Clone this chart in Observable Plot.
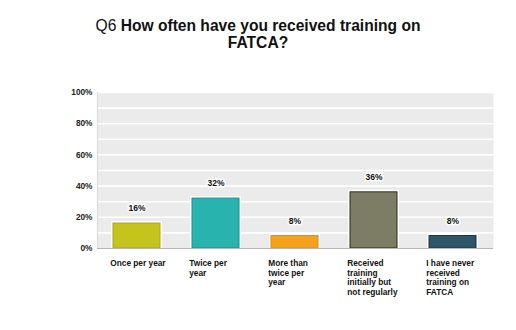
<!DOCTYPE html>
<html>
<head>
<meta charset="utf-8">
<script src="https://cdn.jsdelivr.net/npm/d3@7"></script>
<script src="https://cdn.jsdelivr.net/npm/@observablehq/plot@0.6"></script>
<style>
  html, body { margin: 0; padding: 0; background: #fff; }
  #title { width: 516px; height: 60px; box-sizing: border-box; padding-top: 17px; text-align: center;
    font-family: "Liberation Sans", Arial, sans-serif; font-weight: bold; font-size: 15.6px; line-height: 17px; color: #111; }
  #title .q { font-weight: normal; }
  svg { display: block; }
</style>
</head>
<body>
<div id="title"><span class="q">Q6</span> How often have you received training on<br>FATCA?</div>
<div id="chart"></div>
<script>
const categories = ["Once per year", "Twice per year", "More than twice per year", "Received training initially but not regularly", "I have never received training on FATCA"];
const tickLabels = ["Once per year", "Twice per\nyear", "More than\ntwice per\nyear", "Received\ntraining\ninitially but\nnot regularly", "I have never\nreceived\ntraining on\nFATCA"];
const values = [16, 32, 8, 36, 8];
const fills = ["#c4c41c", "#29b3ae", "#f6a11b", "#7d7d66", "#2d5669"];
const strokes = ["#a8a812", "#15918c", "#e48c05", "#2a2a1c", "#1a3040"];
const yTicks = [0, 20, 40, 60, 80, 100];
const gridTicks = [10, 20, 30, 40, 50, 60, 70, 80, 90, 100];

const data = categories.map((c, i) => ({cat: c, label: tickLabels[i], value: values[i], fill: fills[i], stroke: strokes[i]}));
const labelOf = new Map(data.map(d => [d.cat, d.label]));

const W = 516, H = 270, mL = 97, mR = 23;
const step = (W - mL - mR) / categories.length;
const bw = step * 0.6;

const chart = Plot.plot({
  width: W, height: H,
  marginLeft: mL, marginRight: mR, marginTop: 32, marginBottom: 82,
  style: {fontFamily: "'Liberation Sans', Arial, sans-serif", background: "#fff"},
  x: {domain: categories, paddingInner: 0.4, paddingOuter: 0.2, axis: null, label: null},
  y: {domain: [0, 100], axis: null, label: null},
  marks: [
    Plot.frame({fill: "#ebebeb", stroke: null}),
    Plot.ruleY(gridTicks, {stroke: "#fff", strokeWidth: 1.6}),
    Plot.barY(data, {x: "cat", y: "value", fill: "none", stroke: "#fff", strokeWidth: 4}),
    Plot.barY(data, {x: "cat", y: "value", fill: d => d.fill, stroke: d => d.stroke, strokeWidth: 1, inset: 0}),
    Plot.ruleY([0], {stroke: "#b5b5b5", strokeWidth: 1.2}),
    Plot.ruleX([0], {x: () => categories[0], dx: -step / 2 - 0.001, stroke: "#d8d8d8", y1: 0, y2: 100, strokeWidth: 1}),
    Plot.text(data, {x: "cat", y: "value", text: d => d.value + "%", dy: -15, fontWeight: "bold", fontSize: 8.5,
      fill: "#111", stroke: "#fff", strokeWidth: 3, paintOrder: "stroke"}),
    Plot.axisY(yTicks, {label: null, tickSize: 0, tickPadding: 5, tickFormat: d => d + "%", fontWeight: "bold", fontSize: 8.3, fill: "#222"}),
    Plot.axisX({label: null, tickSize: 0, tickPadding: 10, tickFormat: d => labelOf.get(d), textAnchor: "start", dx: -bw / 2 - 3, lineAnchor: "top",
      fontWeight: "bold", fontSize: 8.3, lineHeight: 1.2, fill: "#111"})
  ]
});
document.getElementById("chart").appendChild(chart);
</script>
</body>
</html>
